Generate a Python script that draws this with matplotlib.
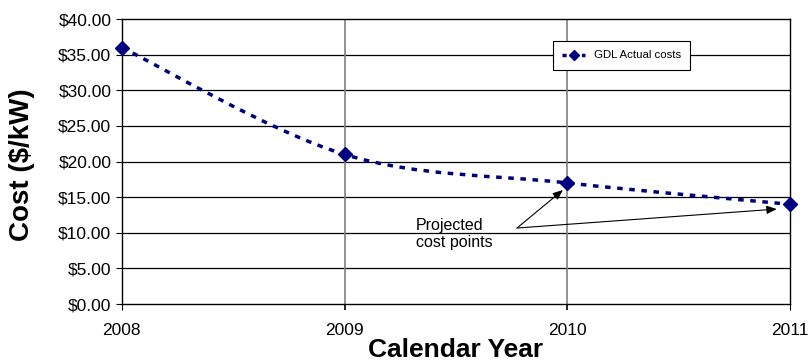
import numpy as np
import matplotlib
matplotlib.use("Agg")
import matplotlib.pyplot as plt
from matplotlib.path import Path
from matplotlib.patches import PathPatch
from matplotlib.lines import Line2D

plt.rcParams['font.family'] = ['Liberation Sans', 'DejaVu Sans']

# data
years = [2008, 2009, 2010, 2011]
costs = [36.0, 21.0, 17.0, 14.0]
y_ticks = [0, 5, 10, 15, 20, 25, 30, 35, 40]
series_name = "GDL Actual costs"
note_text = "Projected\ncost points"

navy = "#000080"

fig = plt.figure(figsize=(8.12, 3.62), dpi=100)
ax = fig.add_axes([0.150, 0.160, 0.823, 0.7875])

# smoothed line like excel (cubic bezier through the points)
pts = np.column_stack([years, costs])
verts = [tuple(pts[0])]
codes = [Path.MOVETO]
for i in range(len(pts) - 1):
    p0 = pts[max(i - 1, 0)]
    p1 = pts[i]
    p2 = pts[i + 1]
    p3 = pts[min(i + 2, len(pts) - 1)]
    c1 = p1 + (p2 - p0) / 6.0
    c2 = p2 - (p3 - p1) / 6.0
    verts += [tuple(c1), tuple(c2), tuple(p2)]
    codes += [Path.CURVE4] * 3
curve = PathPatch(Path(verts, codes), facecolor="none", edgecolor=navy,
                  lw=2.5, linestyle=(0, (1.6, 1.9)), zorder=3)
ax.add_patch(curve)
ax.plot(years, costs, linestyle="none", marker="D", ms=7, color=navy, zorder=4,
        clip_on=False)

ax.set_xlim(2008, 2011)
ax.set_ylim(0, 40)
ax.set_xticks(years)
ax.set_yticks(y_ticks)
ax.set_yticklabels(["${:.2f}".format(v) for v in y_ticks])

# grid: horizontal black, vertical grey
for v in y_ticks[1:-1]:
    ax.axhline(v, color="black", lw=0.9, zorder=1)
for yr in years[1:-1]:
    ax.axvline(yr, color="#808080", lw=1.2, zorder=1)

for s in ax.spines.values():
    s.set_color("black")
    s.set_linewidth(1.0)

ax.tick_params(axis="x", direction="out", length=4.5, pad=9, labelsize=12.5,
               color="black")
ax.tick_params(axis="y", direction="out", length=4, pad=3.5, labelsize=12.5)
# tick marks at inner years look grey like the gridlines
for t, yr in zip(ax.xaxis.get_major_ticks(), years):
    if yr in years[1:-1]:
        t.tick1line.set_color("#808080")
        t.tick1line.set_markeredgewidth(1.2)

ax.set_xlabel("Calendar Year", fontsize=19, fontweight="bold")
ax.xaxis.set_label_coords(0.5, -0.118)
ax.set_ylabel("Cost ($/kW)", fontsize=20, fontweight="bold")
ax.yaxis.set_label_coords(-0.130, 0.488)

# annotation
ax.text(2009.32, 12.1, note_text, fontsize=11.5, va="top", ha="left",
        linespacing=1.15)
for hx, hy in [(2009.98, 16.0), (2010.94, 13.33)]:
    ax.annotate("", xy=(hx, hy), xytext=(2009.774, 10.67),
                arrowprops=dict(arrowstyle="-|>,head_length=0.6,head_width=0.25",
                                color="black", lw=0.8, shrinkA=0, shrinkB=0))

handle = Line2D([], [], color=navy, lw=2.5, linestyle=(0, (1.2, 1.6)),
                marker="D", ms=5)
leg = ax.legend([handle], [series_name], loc="center",
                bbox_to_anchor=(0.748, 0.872), fontsize=8.2, frameon=True,
                fancybox=False, edgecolor="black", framealpha=1,
                handlelength=2.0, borderpad=0.8)
leg.get_frame().set_linewidth(0.8)

fig.savefig("out.png", dpi=100)
